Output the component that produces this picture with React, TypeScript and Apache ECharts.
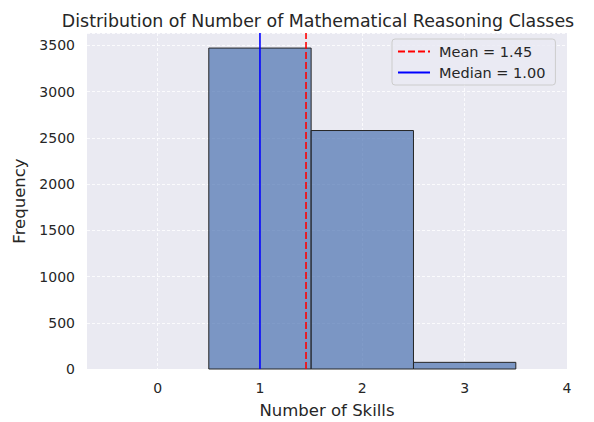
import React, { useEffect, useRef } from "react";
import * as echarts from "echarts";

const binCenters = [1, 2, 3];
const counts = [3472, 2580, 72];
const meanValue = 1.45;
const medianValue = 1.0;
const xTicks = [0, 1, 2, 3, 4];
const yTicks = [0, 500, 1000, 1500, 2000, 2500, 3000, 3500];
const X_MIN = -0.69;
const X_MAX = 4.0;
const Y_MAX = 3635;

export default function App() {
  const ref = useRef<HTMLDivElement>(null);
  useEffect(() => {
    if (!ref.current) return;
    const chart = echarts.init(ref.current, undefined, { renderer: "svg" });
    const font = "DejaVu Sans";
    const gridLine = { show: true, lineStyle: { color: "#ffffff", width: 0.8, type: [3, 2] } };
    const option: any = {
      animation: false,
      backgroundColor: "#ffffff",
      title: {
        text: "Distribution of Number of Mathematical Reasoning Classes",
        left: 313,
        textAlign: "center",
        top: 7,
        textStyle: { fontFamily: font, fontSize: 17.4, fontWeight: "normal", color: "#262626" },
      },
      grid: {
        left: 87, right: 27, top: 33, bottom: 53, show: true,
        backgroundColor: "#EAEAF2", borderWidth: 0,
        outerBoundsMode: "none", containLabel: false,
      },
      legend: {
        orient: "vertical",
        left: 392,
        top: 39,
        padding: [5, 10, 5, 5],
        itemGap: 6,
        itemWidth: 32,
        itemHeight: 14,
        backgroundColor: "rgba(234,234,242,0.8)",
        borderColor: "#cccccc",
        borderWidth: 1,
        borderRadius: 3,
        textStyle: { fontFamily: font, fontSize: 14.5, color: "#262626", padding: [0, 0, 0, 4] },
        data: [
          { name: "Mean = 1.45", itemStyle: { opacity: 0 } },
          { name: "Median = 1.00", itemStyle: { opacity: 0 } },
        ],
      },
      xAxis: {
        type: "value",
        min: X_MIN,
        max: X_MAX,
        axisLine: { show: false },
        axisTick: { show: false, customValues: xTicks },
        axisLabel: {
          fontFamily: font,
          fontSize: 14,
          color: "#262626",
          margin: 12,
          customValues: xTicks,
          showMaxLabel: true,
        },
        splitLine: gridLine,
        name: "Number of Skills",
        nameLocation: "middle",
        nameGap: 33,
        nameTextStyle: { fontFamily: font, fontSize: 16.5, color: "#262626" },
      },
      yAxis: {
        type: "value",
        min: 0,
        max: Y_MAX,
        interval: 500,
        axisLine: { show: false },
        axisTick: { show: false },
        axisLabel: {
          fontFamily: font,
          fontSize: 14,
          color: "#262626",
          margin: 12,
          formatter: (v: number) => (yTicks.includes(v) ? String(v) : ""),
        },
        splitLine: gridLine,
        name: "Frequency",
        nameLocation: "middle",
        nameGap: 57,
        nameTextStyle: { fontFamily: font, fontSize: 16.5, color: "#262626" },
      },
      series: [
        {
          type: "custom",
          name: "hist",
          data: binCenters.map((c, i) => [c, counts[i]]),
          renderItem: (params: any, api: any) => {
            const c = api.value(0);
            const h = api.value(1);
            const p0 = api.coord([c - 0.5, h]);
            const p1 = api.coord([c + 0.5, 0]);
            return {
              type: "rect",
              shape: { x: p0[0], y: p0[1], width: p1[0] - p0[0], height: p1[1] - p0[1] },
              style: { fill: "rgba(76,114,176,0.7)", stroke: "#262626", lineWidth: 1 },
            };
          },
          z: 2,
        },
        {
          type: "line",
          name: "Mean = 1.45",
          data: [[meanValue, 0], [meanValue, Y_MAX]],
          symbol: "none",
          lineStyle: { color: "#ff0000", width: 1.6, type: [7, 3] },
          itemStyle: { color: "#ff0000" },
          z: 3,
        },
        {
          type: "line",
          name: "Median = 1.00",
          data: [[medianValue, 0], [medianValue, Y_MAX]],
          symbol: "none",
          lineStyle: { color: "#0000ff", width: 1.6 },
          itemStyle: { color: "#0000ff" },
          z: 3,
        },
      ],
    };
    chart.setOption(option);
    return () => chart.dispose();
  }, []);
  return <div ref={ref} style={{ position: "fixed", left: 0, top: 0, width: 594, height: 422 }} />;
}
